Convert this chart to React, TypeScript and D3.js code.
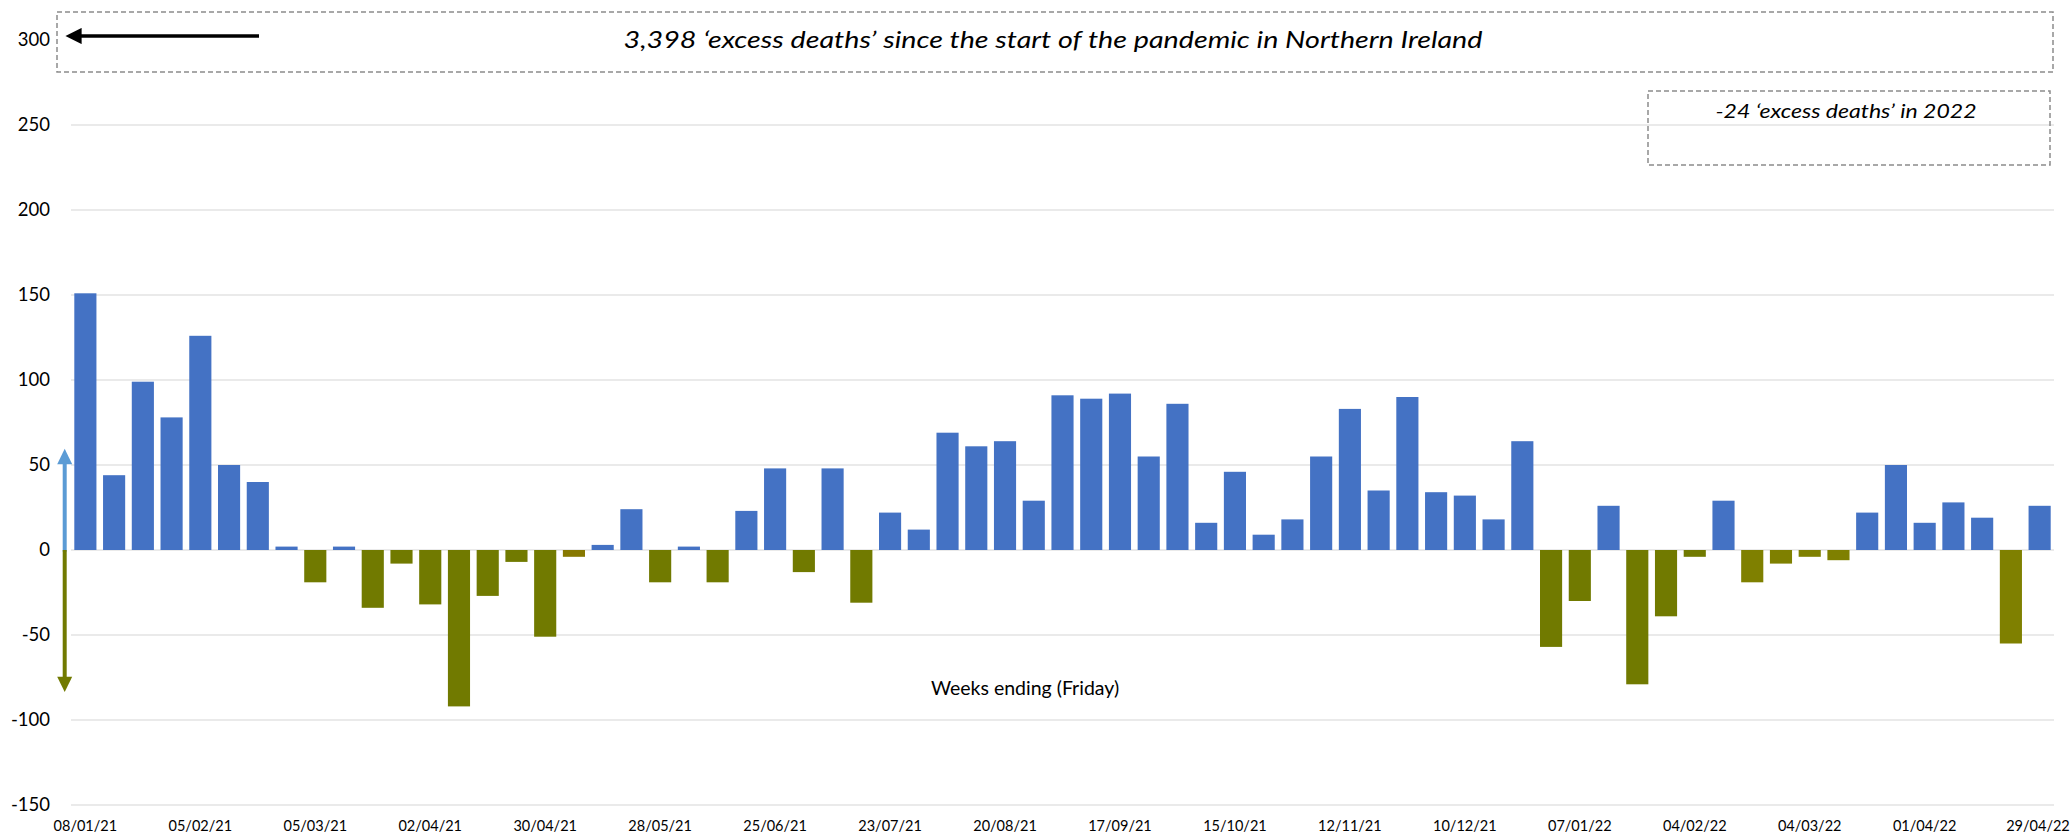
import React from 'react';
import * as d3 from 'd3';

// weekly excess deaths, weeks ending Friday 08/01/21 .. 29/04/22
const FIRST_WEEK = new Date(2021, 0, 8);
const LAST_WEEK = new Date(2022, 3, 29);

const excessDeaths = [
  151, 44, 99, 78, 126, 50, 40, 2, -19, 2,
  -34, -8, -32, -92, -27, -7, -51, -4, 3, 24,
  -19, 2, -19, 23, 48, -13, 48, -31, 22, 12,
  69, 61, 64, 29, 91, 89, 92, 55, 86, 16,
  46, 9, 18, 55, 83, 35, 90, 34, 32, 18,
  64, -57, -30, 26, -79, -39, -4, 29, -19, -8,
  -4, -6, 22, 50, 16, 28, 19, -55, 26,
];

const yTicks = [-150, -100, -50, 0, 50, 100, 150, 200, 250, 300];

const totalNote = '3,398 \u2018excess deaths\u2019 since the start of the pandemic in Northern Ireland';
const yearNote = '-24 \u2018excess deaths\u2019 in 2022';
const xTitle = 'Weeks ending (Friday)';

// a few negative bars are drawn in a slightly different olive
const LIGHT_OLIVE_WEEKS = new Set([58, 59, 60, 61, 67]);
const BROWN_OLIVE_WEEKS = new Set([17]);

const W = 2072;
const H = 835;
const PLOT_LEFT = 71;
const PLOT_RIGHT = 2054;
const FONT = 'Lato, "Open Sans", sans-serif';

const BLUE = '#4472C4';
const OLIVE = '#717A00';
const GRID = '#EAEAEA';

export default function App() {
  const weeks = d3.timeFriday.range(FIRST_WEEK, d3.timeDay.offset(LAST_WEEK, 1));
  const fmt = d3.timeFormat('%d/%m/%y');

  const x = d3.scaleBand<number>()
    .domain(d3.range(excessDeaths.length))
    .range([PLOT_LEFT, PLOT_RIGHT])
    .paddingInner(0.23)
    .paddingOuter(0.115);

  const y = d3.scaleLinear().domain([-150, 300]).range([805, 40]);

  const barColor = (v: number, i: number) => {
    if (v >= 0) return BLUE;
    if (BROWN_OLIVE_WEEKS.has(i)) return '#877800';
    if (LIGHT_OLIVE_WEEKS.has(i)) return '#7F8000';
    return OLIVE;
  };

  const arrowX = 64.7;

  return (
    <svg
      width={W}
      height={H}
      viewBox={`0 0 ${W} ${H}`}
      style={{ position: 'absolute', left: 0, top: 0, background: '#fff' }}
      fontFamily={FONT}
    >
      <defs>
        <marker id="headBlack" viewBox="0 0 10 10" refX="1" refY="5" markerWidth="4.5" markerHeight="4.5" orient="auto-start-reverse">
          <path d="M0,0 L10,5 L0,10 z" fill="#000" />
        </marker>
      </defs>

      {/* gridlines */}
      <g>
        {yTicks.filter(t => t !== 300).map(t => (
          <line key={t} x1={PLOT_LEFT} x2={PLOT_RIGHT} y1={y(t)} y2={y(t)} stroke={GRID} strokeWidth={1.8} />
        ))}
      </g>

      {/* y labels */}
      <g fontSize={18.5} fill="#000" textAnchor="end">
        {yTicks.map(t => (
          <text key={t} x={50} y={y(t)} dy="0.35em">{t}</text>
        ))}
      </g>

      {/* bars */}
      <g>
        {excessDeaths.map((v, i) => (
          <rect
            key={i}
            x={x(i)}
            width={x.bandwidth()}
            y={y(Math.max(0, v))}
            height={Math.abs(y(v) - y(0))}
            fill={barColor(v, i)}
          />
        ))}
      </g>

      {/* x labels every 4 weeks */}
      <g fontSize={14.5} fill="#000" textAnchor="middle">
        {weeks.map((d, i) => (i % 4 === 0 ? (
          <text key={i} x={Math.min((x(i) ?? 0) + x.bandwidth() / 2, 2038)} y={826} dy="0.35em">{fmt(d)}</text>
        ) : null))}
      </g>

      <text x={1025} y={695} fontSize={19.5} textAnchor="middle" fill="#000">{xTitle}</text>

      {/* up / down arrows at the axis */}
      <line x1={arrowX} x2={arrowX} y1={y(-1)} y2={y(52)} stroke="#5B9BD5" strokeWidth={4} />
      <path d={`M${arrowX},${y(59.5)} L${arrowX - 7.5},${y(50.5)} L${arrowX + 7.5},${y(50.5)} z`} fill="#5B9BD5" />
      <line x1={arrowX} x2={arrowX} y1={y(0)} y2={y(-76)} stroke={OLIVE} strokeWidth={4} />
      <path d={`M${arrowX},${y(-83.5)} L${arrowX - 7.5},${y(-74.5)} L${arrowX + 7.5},${y(-74.5)} z`} fill={OLIVE} />

      {/* total annotation */}
      <rect x={57} y={12} width={1996} height={60} fill="#fff" stroke="#8C8C8C" strokeWidth={1.5} strokeDasharray="5 3" />
      <line x1={259} x2={80} y1={36} y2={36} stroke="#000" strokeWidth={3.6} markerEnd="url(#headBlack)" />
      <text x={1053} y={48} fontSize={24} fontStyle="italic" textAnchor="middle" fill="#000" textLength={859} lengthAdjust="spacingAndGlyphs">
        {totalNote}
      </text>

      {/* 2022 annotation */}
      <rect x={1648} y={91} width={402} height={74} fill="none" stroke="#8C8C8C" strokeWidth={1.5} strokeDasharray="5 3" />
      <text x={1846} y={118} fontSize={18.5} fontStyle="italic" textAnchor="middle" fill="#000" textLength={261} lengthAdjust="spacingAndGlyphs">
        {yearNote}
      </text>
    </svg>
  );
}
